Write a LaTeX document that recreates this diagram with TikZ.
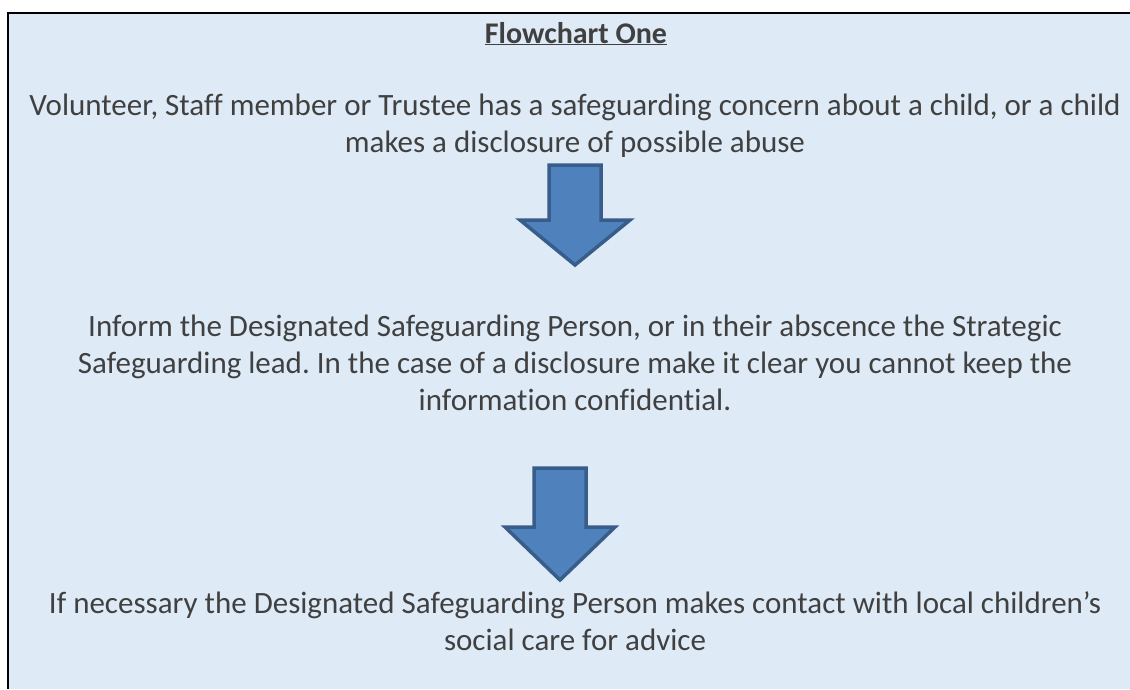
\documentclass[tikz,border=0pt]{standalone}
\usepackage{fontspec}
\setmainfont{Carlito}[Ligatures=NoCommon]
\frenchspacing
\definecolor{boxfill}{HTML}{DEEAF6}
\definecolor{arrowfill}{HTML}{4F81BD}
\definecolor{arrowline}{HTML}{385D8A}
\definecolor{textgray}{HTML}{404040}

% block arrow: centre x, top y, shaft half width, shoulder y, head half width, tip y
\newcommand{\bigdownarrow}[6]{%
  \draw[blockarrow] (#1-#3,#2) -- (#1+#3,#2) -- (#1+#3,#4) -- (#1+#5,#4)
    -- (#1,#6) -- (#1-#5,#4) -- (#1-#3,#4) -- cycle;}

\begin{document}
\begin{tikzpicture}[x=1pt,y=-1pt,
    flowtext/.style={text=textgray, align=center, anchor=base, inner sep=0pt,
      font=\fontsize{31}{37}\selectfont},
    blockarrow/.style={fill=arrowfill, draw=arrowline, line width=3.5pt, line join=miter}]
    \useasboundingbox (0,0) rectangle (1130,689);

    % background panel
    \fill[boxfill] (8,13) rectangle (1130,689);
    \draw[line width=2pt] (8,689) -- (8,13) -- (1130,13);

    % base anchor sits on the last line of each step
    \node (title) at (576,43) [flowtext, font=\fontsize{30}{37}\selectfont\bfseries]
      {\underline{Flowchart One}};

    \node (concern) at (575,152) [flowtext] {Volunteer, Staff member or Trustee has a safeguarding concern about a child, or a child\\
      makes a disclosure of possible abuse};

    \node (inform) at (575,410) [flowtext] {Inform the Designated Safeguarding Person, or in their abscence the Strategic\\
      Safeguarding lead. In the case of a disclosure make it clear you cannot keep the\\
      information confidential.};

    \node (contact) at (575,650) [flowtext] {If necessary the Designated Safeguarding Person makes contact with local children’s\\
      social care for advice};

    % arrows between the steps
    \bigdownarrow{575}{165}{26}{220}{55}{265}
    \bigdownarrow{560}{468}{26}{527}{55}{580}

\end{tikzpicture}
\end{document}
